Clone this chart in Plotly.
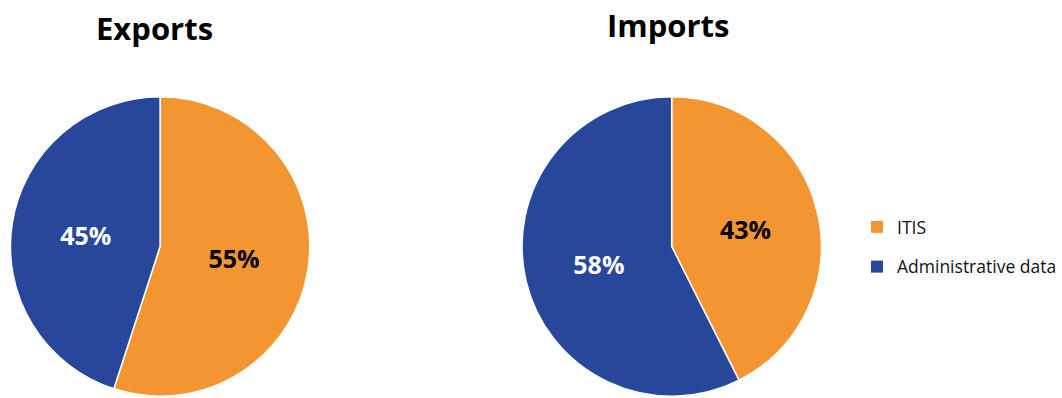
import plotly.graph_objects as go

categories = ["ITIS", "Administrative data"]
exports_values = [55, 45]
imports_values = [43, 58]
titles = ["Exports", "Imports"]
colors = ["#F39530", "#27479A"]
text_colors = ["#000000", "#FFFFFF"]

W, H = 1062, 398
FONT = "Open Sans"

fig = go.Figure()

def pie(values, x0, x1, y0, y1):
    return go.Pie(
        labels=categories,
        values=values,
        text=[f"{v}%" for v in values],
        textinfo="text",
        textposition="inside",
        insidetextorientation="horizontal",
        insidetextfont=dict(family=FONT, size=25, color=text_colors, weight="bold"),
        marker=dict(colors=colors, line=dict(color="white", width=1.5)),
        sort=False,
        direction="clockwise",
        rotation=0,
        showlegend=False,
        hoverinfo="label+percent",
        domain=dict(x=[x0 / W, x1 / W], y=[y0 / H, y1 / H]),
    )

fig.add_trace(pie(exports_values, 10.5, 311.5, 0, 303))
fig.add_trace(pie(imports_values, 525, 826, 0, 303))

# legend entries (square swatches)
for i, (cat, col) in enumerate(zip(categories, colors)):
    fig.add_trace(go.Scatter(
        x=[None], y=[None], mode="markers", name=cat,
        marker=dict(symbol="square", size=12, color=col),
        legendgroup=f"g{i}", showlegend=True,
    ))

for t, cx, cy in zip(titles, [155, 672], [28, 25]):
    fig.add_annotation(
        text=f"<b>{t}</b>", x=cx / W, y=1 - cy / H, xref="paper", yref="paper",
        xanchor="center", yanchor="middle", showarrow=False,
        font=dict(family=FONT, size=31, color="#000000"),
    )

fig.update_layout(
    width=W, height=H,
    margin=dict(l=0, r=0, t=0, b=0),
    paper_bgcolor="white", plot_bgcolor="white",
    xaxis=dict(visible=False), yaxis=dict(visible=False),
    legend=dict(
        x=862 / W, y=1 - 209 / H, xanchor="left", yanchor="top",
        font=dict(family=FONT, size=17.5, color="#111111"),
        tracegroupgap=14, bgcolor="rgba(0,0,0,0)",
    ),
)

fig.write_html(
    "out.html",
    config={"displayModeBar": False},
    post_script="document.body.style.margin='0';",
)
